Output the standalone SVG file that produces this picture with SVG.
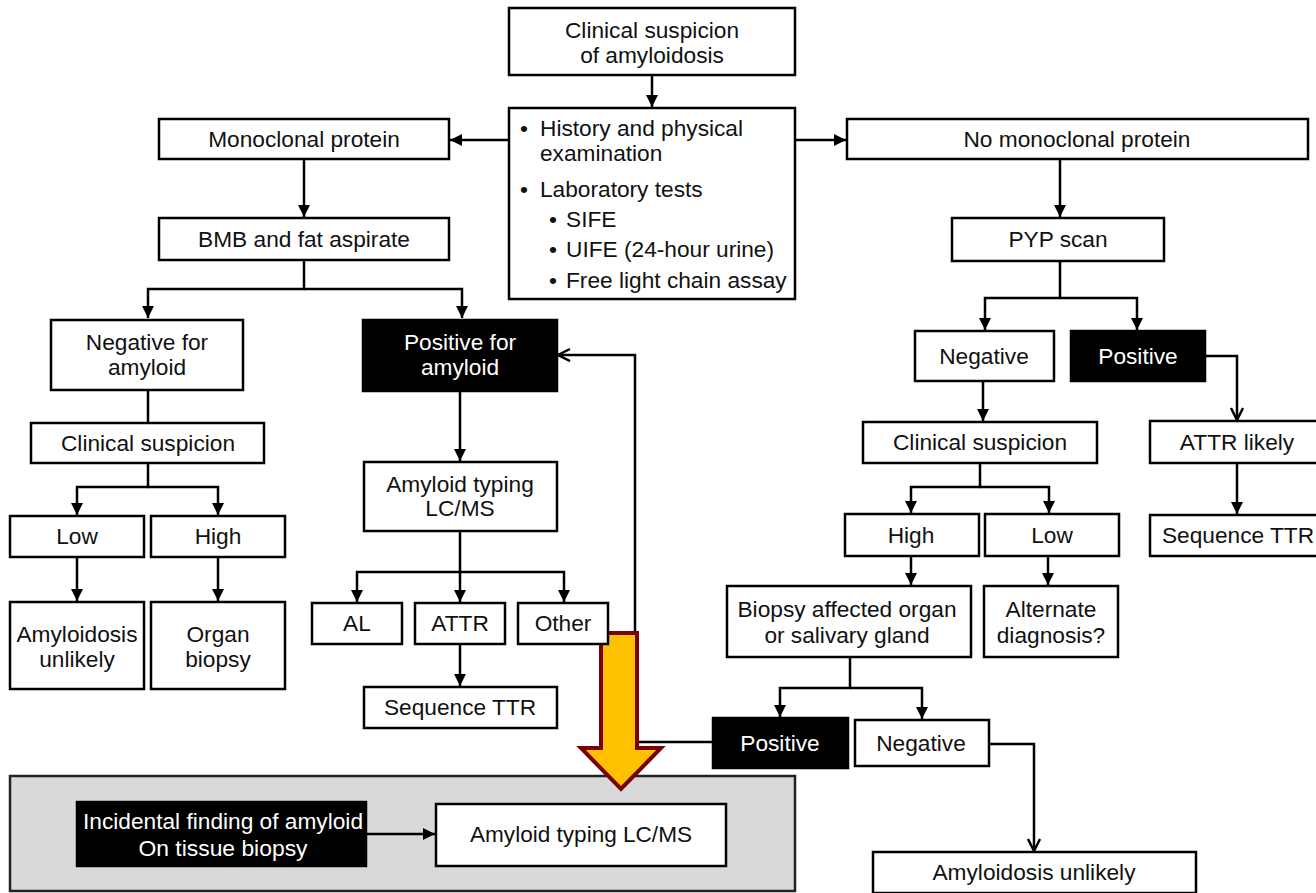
<svg xmlns="http://www.w3.org/2000/svg" width="1316" height="893" viewBox="0 0 1316 893">
  <defs>
    <marker id="arrow" markerUnits="userSpaceOnUse" markerWidth="14" markerHeight="14" refX="12" refY="6" orient="auto">
      <path d="M0,0 L12,6 L0,12 z" fill="#000"/>
    </marker>
    <marker id="open" markerUnits="userSpaceOnUse" markerWidth="16" markerHeight="16" refX="13" refY="7" orient="auto">
      <path d="M1,1 L13,7 L1,13" fill="none" stroke="#000" stroke-width="2.5"/>
    </marker>
    <style>
      .box { fill: #fff; stroke: #000; stroke-width: 2.5; }
      .dark { fill: #000; stroke: #000; stroke-width: 2.5; }
      text { font-family: "Liberation Sans", Arial, sans-serif; font-size: 22.7px; fill: #111; }
      .c { text-anchor: middle; }
      .w { fill: #fff; }
      .ln { fill: none; stroke: #000; stroke-width: 2.5; }
      .ar { marker-end: url(#arrow); }
      .op { marker-end: url(#open); }
    </style>
  </defs>
  <rect width="1316" height="893" fill="#fff"/>

  <!-- shaded panel for incidental findings -->
  <g id="incidental-panel">
    <rect x="10" y="776" width="785" height="115" fill="#d9d9d9" stroke="#222" stroke-width="2.5"/>
  </g>

  <!-- connectors -->
  <g id="connectors">
    <path class="ln ar" d="M652,75 V107"/>
    <path class="ln ar" d="M509,140 H450"/>
    <path class="ln ar" d="M795,140 H846"/>
    <path class="ln ar" d="M304,159 V217"/>
    <path class="ln ar" d="M304,260 V289 H148 V318"/>
    <path class="ln ar" d="M304,289 H462 V318"/>
    <path class="ln" d="M148,390 V423"/>
    <path class="ln ar" d="M148,463 V487 H77 V515"/>
    <path class="ln ar" d="M148,487 H218 V515"/>
    <path class="ln ar" d="M77,557 V601"/>
    <path class="ln ar" d="M218,557 V601"/>
    <path class="ln ar" d="M460,391 V461"/>
    <path class="ln ar" d="M460,531 V572 H357 V602"/>
    <path class="ln ar" d="M460,572 V602"/>
    <path class="ln ar" d="M460,572 H564 V602"/>
    <path class="ln ar" d="M460,644 V686"/>
    <path class="ln op" d="M713,742 H635 V355 H558"/>
    <path class="ln ar" d="M1060,159 V217"/>
    <path class="ln ar" d="M1060,261 V298 H985 V330"/>
    <path class="ln ar" d="M1060,298 H1137 V330"/>
    <path class="ln ar" d="M983,381 V421"/>
    <path class="ln op" d="M1205,356 H1237 V420"/>
    <path class="ln ar" d="M1237,463 V514"/>
    <path class="ln ar" d="M980,463 V487 H911 V513"/>
    <path class="ln ar" d="M980,487 H1049 V513"/>
    <path class="ln ar" d="M911,556 V585"/>
    <path class="ln ar" d="M1048,556 V585"/>
    <path class="ln ar" d="M850,657 V688 H780 V717"/>
    <path class="ln ar" d="M850,688 H922 V719"/>
    <path class="ln op" d="M989,744 H1034 V851"/>
    <path class="ln ar" d="M366,834 H435"/>
  </g>

  <!-- highlighted block arrow -->
  <g id="highlight-arrow">
    <path d="M601,633 H637 V748 H661 L621,789 L581,748 H601 Z" fill="#ffc000" stroke="#7b0000" stroke-width="4" stroke-linejoin="miter"/>
  </g>

  <g id="start">
    <rect class="box" x="509" y="8" width="286" height="67"/>
    <text class="c" x="652" y="38">Clinical suspicion</text>
    <text class="c" x="652" y="63">of amyloidosis</text>
  </g>

  <g id="workup">
    <rect class="box" x="509" y="108" width="286" height="191"/>
    <text x="520" y="136">•</text><text x="540" y="136">History and physical</text>
    <text x="540" y="161">examination</text>
    <text x="520" y="197">•</text><text x="540" y="197">Laboratory tests</text>
    <text x="549" y="227">•</text><text x="566" y="227">SIFE</text>
    <text x="549" y="257">•</text><text x="566" y="257">UIFE (24-hour urine)</text>
    <text x="549" y="288">•</text><text x="566" y="288">Free light chain assay</text>
  </g>

  <g id="mono">
    <rect class="box" x="159" y="119" width="290" height="40"/>
    <text class="c" x="304" y="147">Monoclonal protein</text>
  </g>

  <g id="nomono">
    <rect class="box" x="847" y="119" width="461" height="40"/>
    <text class="c" x="1077" y="147">No monoclonal protein</text>
  </g>

  <g id="bmb">
    <rect class="box" x="159" y="218" width="290" height="42"/>
    <text class="c" x="304" y="247">BMB and fat aspirate</text>
  </g>

  <g id="neg-amyloid">
    <rect class="box" x="51" y="320" width="192" height="70"/>
    <text class="c" x="147" y="350">Negative for</text>
    <text class="c" x="147" y="375">amyloid</text>
  </g>

  <g id="pos-amyloid">
    <rect class="dark" x="363" y="320" width="194" height="71"/>
    <text class="c w" x="460" y="350">Positive for</text>
    <text class="c w" x="460" y="375">amyloid</text>
  </g>

  <g id="clin-left">
    <rect class="box" x="31" y="423" width="233" height="40"/>
    <text class="c" x="148" y="451">Clinical suspicion</text>
  </g>

  <g id="low-left">
    <rect class="box" x="10" y="516" width="134" height="41"/>
    <text class="c" x="77" y="544">Low</text>
  </g>

  <g id="high-left">
    <rect class="box" x="151" y="516" width="134" height="41"/>
    <text class="c" x="218" y="544">High</text>
  </g>

  <g id="unlikely-left">
    <rect class="box" x="10" y="602" width="134" height="87"/>
    <text class="c" x="77" y="642">Amyloidosis</text>
    <text class="c" x="77" y="667">unlikely</text>
  </g>

  <g id="organ-biopsy">
    <rect class="box" x="151" y="602" width="134" height="87"/>
    <text class="c" x="218" y="642">Organ</text>
    <text class="c" x="218" y="667">biopsy</text>
  </g>

  <g id="typing">
    <rect class="box" x="364" y="462" width="193" height="69"/>
    <text class="c" x="460" y="492">Amyloid typing</text>
    <text class="c" x="460" y="516">LC/MS</text>
  </g>

  <g id="al">
    <rect class="box" x="312" y="603" width="90" height="41"/>
    <text class="c" x="357" y="631">AL</text>
  </g>

  <g id="attr">
    <rect class="box" x="415" y="603" width="90" height="41"/>
    <text class="c" x="460" y="631">ATTR</text>
  </g>

  <g id="other">
    <rect class="box" x="518" y="603" width="90" height="41"/>
    <text class="c" x="563" y="631">Other</text>
  </g>

  <g id="seq-left">
    <rect class="box" x="364" y="687" width="193" height="41"/>
    <text class="c" x="460" y="715">Sequence TTR</text>
  </g>

  <g id="pyp">
    <rect class="box" x="952" y="218" width="212" height="43"/>
    <text class="c" x="1058" y="247">PYP scan</text>
  </g>

  <g id="pyp-neg">
    <rect class="box" x="915" y="331" width="139" height="50"/>
    <text class="c" x="984" y="364">Negative</text>
  </g>

  <g id="pyp-pos">
    <rect class="dark" x="1071" y="331" width="134" height="50"/>
    <text class="c w" x="1138" y="364">Positive</text>
  </g>

  <g id="attr-likely">
    <rect class="box" x="1150" y="421" width="176" height="42"/>
    <text class="c" x="1237" y="450">ATTR likely</text>
  </g>

  <g id="seq-right">
    <rect class="box" x="1150" y="515" width="176" height="41"/>
    <text class="c" x="1238" y="543">Sequence TTR</text>
  </g>

  <g id="clin-right">
    <rect class="box" x="863" y="422" width="234" height="41"/>
    <text class="c" x="980" y="450">Clinical suspicion</text>
  </g>

  <g id="high-right">
    <rect class="box" x="845" y="514" width="134" height="42"/>
    <text class="c" x="911" y="543">High</text>
  </g>

  <g id="low-right">
    <rect class="box" x="985" y="514" width="134" height="42"/>
    <text class="c" x="1052" y="543">Low</text>
  </g>

  <g id="biopsy-organ">
    <rect class="box" x="727" y="586" width="244" height="71"/>
    <text class="c" x="847" y="617">Biopsy affected organ</text>
    <text class="c" x="847" y="643">or salivary gland</text>
  </g>

  <g id="alternate">
    <rect class="box" x="984" y="586" width="134" height="71"/>
    <text class="c" x="1051" y="617">Alternate</text>
    <text class="c" x="1051" y="643">diagnosis?</text>
  </g>

  <g id="biopsy-pos">
    <rect class="dark" x="713" y="718" width="135" height="50"/>
    <text class="c w" x="780" y="751">Positive</text>
  </g>

  <g id="biopsy-neg">
    <rect class="box" x="855" y="720" width="134" height="46"/>
    <text class="c" x="921" y="751">Negative</text>
  </g>

  <g id="unlikely-right">
    <rect class="box" x="873" y="852" width="323" height="41"/>
    <text class="c" x="1034" y="880">Amyloidosis unlikely</text>
  </g>

  <g id="incidental">
    <rect class="dark" x="77" y="802" width="289" height="64"/>
    <text class="c w" x="223" y="829" textLength="280" lengthAdjust="spacingAndGlyphs">Incidental finding of amyloid</text>
    <text class="c w" x="223" y="856" textLength="169" lengthAdjust="spacingAndGlyphs">On tissue biopsy</text>
  </g>

  <g id="typing-incidental">
    <rect class="box" x="436" y="804" width="290" height="62"/>
    <text class="c" x="581" y="842" textLength="222" lengthAdjust="spacingAndGlyphs">Amyloid typing LC/MS</text>
  </g>
</svg>
